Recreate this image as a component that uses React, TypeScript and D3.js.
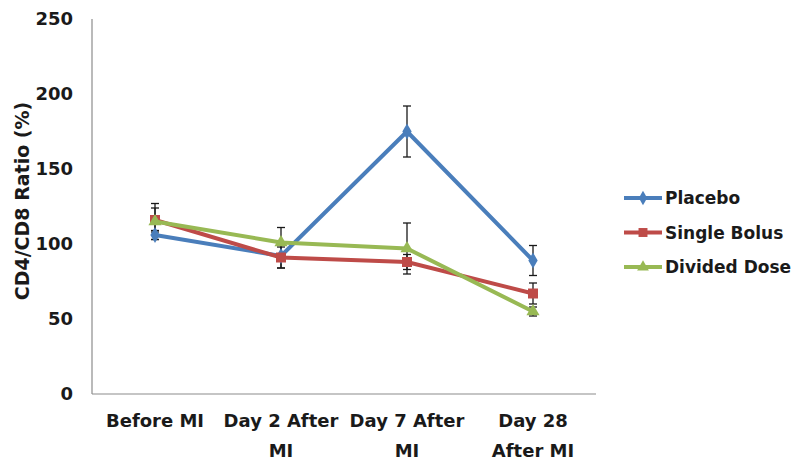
import React from "react";
import * as d3 from "d3";

const categories = ["Before MI", "Day 2 After MI", "Day 7 After MI", "Day 28 After MI"];
const categoryLines = [["Before MI"], ["Day 2 After", "MI"], ["Day 7 After", "MI"], ["Day 28", "After MI"]];
const seriesNames = ["Placebo", "Single Bolus", "Divided Dose"];
const placebo = [106, 92, 175, 89];
const placeboErr = [3, 8, 17, 10];
const singleBolus = [116, 91, 88, 67];
const singleBolusErr = [8, 7, 5, 7];
const dividedDose = [115, 101, 97, 55];
const dividedDoseErr = [12, 10, 17, 3];
const yTicks = [0, 50, 100, 150, 200, 250];

const colors = ["#4a7ebb", "#be4b48", "#98b954"];
const symbols = [d3.symbolDiamond, d3.symbolSquare, d3.symbolTriangle];

export default function App() {
  const width = 800;
  const height = 463;
  const margin = { top: 19, right: 204, bottom: 69, left: 92 };

  const x = d3
    .scaleBand()
    .domain(categories)
    .range([margin.left, width - margin.right]);
  const y = d3
    .scaleLinear()
    .domain([0, 250])
    .range([height - margin.bottom, margin.top]);

  const series = [
    { name: seriesNames[0], values: placebo, err: placeboErr },
    { name: seriesNames[1], values: singleBolus, err: singleBolusErr },
    { name: seriesNames[2], values: dividedDose, err: dividedDoseErr },
  ];

  const cx = (i: number) => (x(categories[i]) as number) + x.bandwidth() / 2;
  const line = d3
    .line<number>()
    .x((d, i) => cx(i))
    .y((d) => y(d));

  const font = "'DejaVu Sans', Arial, sans-serif";
  const baseY = height - margin.bottom;

  return (
    <svg width={width} height={height} style={{ position: "absolute", left: 0, top: 0, background: "#fff" }} fontFamily={font}>
      {/* axes */}
      <line x1={margin.left} x2={margin.left} y1={margin.top} y2={baseY} stroke="#8c8c8c" strokeWidth={1.2} />
      <line x1={margin.left} x2={width - margin.right} y1={baseY} y2={baseY} stroke="#8c8c8c" strokeWidth={1.2} />
      {yTicks.map((t) => (
        <text key={t} x={73} y={y(t)} dy="0.36em" textAnchor="end" fontSize={18} fontWeight="bold" fill="#1a1a1a">
          {t}
        </text>
      ))}
      <text
        transform={`translate(29,201) rotate(-90)`}
        textAnchor="middle"
        fontSize={19}
        fontWeight="bold"
        fill="#1a1a1a"
      >
        CD4/CD8 Ratio (%)
      </text>
      {categoryLines.map((lines, i) => (
        <text key={i} x={cx(i)} y={427} textAnchor="middle" fontSize={18} fontWeight="bold" fill="#1a1a1a">
          {lines.map((l, j) => (
            <tspan key={j} x={cx(i)} dy={j === 0 ? 0 : 30}>
              {l}
            </tspan>
          ))}
        </text>
      ))}

      {/* error bars */}
      {series.map((s, si) =>
        s.values.map((v, i) => (
          <g key={`e${si}-${i}`} stroke="#1a1a1a" strokeWidth={1.3}>
            <line x1={cx(i)} x2={cx(i)} y1={y(v - s.err[i])} y2={y(v + s.err[i])} />
            <line x1={cx(i) - 4} x2={cx(i) + 4} y1={y(v - s.err[i])} y2={y(v - s.err[i])} />
            <line x1={cx(i) - 4} x2={cx(i) + 4} y1={y(v + s.err[i])} y2={y(v + s.err[i])} />
          </g>
        ))
      )}

      {/* lines and markers */}
      {series.map((s, si) => (
        <g key={s.name}>
          <path d={line(s.values) || ""} fill="none" stroke={colors[si]} strokeWidth={4} strokeLinejoin="round" />
          {s.values.map((v, i) => (
            <path
              key={i}
              transform={`translate(${cx(i)},${y(v)})`}
              d={d3.symbol().type(symbols[si]).size(si === 1 ? 100 : 75)() || ""}
              fill={colors[si]}
            />
          ))}
        </g>
      ))}

      {/* legend */}
      {series.map((s, si) => {
        const ly = 198 + si * 34.5;
        return (
          <g key={`l${s.name}`} transform={`translate(624,${ly})`}>
            <line x1={0} x2={38} y1={0} y2={0} stroke={colors[si]} strokeWidth={4} />
            <path
              transform="translate(19,0)"
              d={d3.symbol().type(symbols[si]).size(si === 1 ? 80 : 60)() || ""}
              fill={colors[si]}
            />
            <text x={41} y={0} dy="0.36em" fontSize={17} fontWeight="bold" fill="#1a1a1a">
              {s.name}
            </text>
          </g>
        );
      })}
    </svg>
  );
}
